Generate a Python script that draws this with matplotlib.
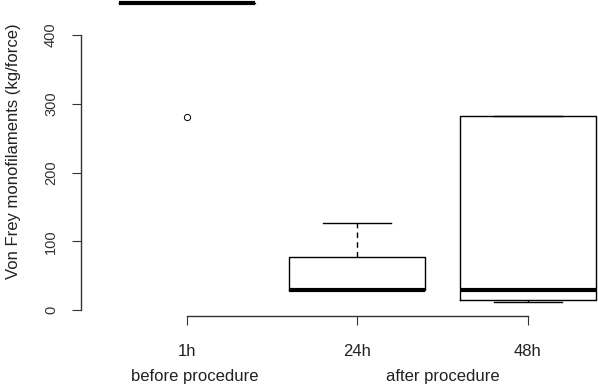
import matplotlib
matplotlib.use("Agg")
import matplotlib.pyplot as plt

# box statistics (kg/force)
groups = ['1h', '24h', '48h']
q1 = [446, 29, 15]
med = [446, 29, 29]
q3 = [446, 77, 282]
whislo = [446, 29, 12]
whishi = [446, 126, 282]
fliers = [[281], [], []]
y_ticks = [0, 100, 200, 300, 400]
phase_labels = ['before procedure', 'after procedure']
phase_pos = [1.05, 2.5]

plt.rcParams['font.family'] = ['Liberation Sans', 'DejaVu Sans']

stats = []
for i in range(len(groups)):
    stats.append({'label': groups[i], 'q1': q1[i], 'med': med[i], 'q3': q3[i],
                  'whislo': whislo[i], 'whishi': whishi[i], 'fliers': fliers[i]})

W, H = 598, 386
fig = plt.figure(figsize=(W / 100, H / 100), dpi=100)
# axes: left edge at the y-axis line, bottom at the x-axis line, running off top/right like the crop
ax = fig.add_axes([81 / W, 70 / H, (W - 81) / W, 316 / H])

ax.bxp(stats, positions=[1, 2, 3], widths=0.8, capwidths=0.4,
       boxprops=dict(color='black', linewidth=1),
       medianprops=dict(color='black', linewidth=3, solid_capstyle='butt'),
       whiskerprops=dict(color='black', linewidth=1, linestyle=(0, (4, 3))),
       capprops=dict(color='black', linewidth=1),
       flierprops=dict(marker='o', markerfacecolor='none', markeredgecolor='black',
                       markersize=4.5, markeredgewidth=0.7))
for art in ax.get_children():
    try:
        art.set_clip_on(False)
    except Exception:
        pass

ax.set_xlim(0.38, 0.38 + (W - 81) / 170.5)
ax.set_ylim(-6 / 0.6875, 310 / 0.6875)

ax.spines['top'].set_visible(False)
ax.spines['right'].set_visible(False)
ax.spines['left'].set_bounds(0, 400)
ax.spines['bottom'].set_bounds(1, 3)
for s in ['left', 'bottom']:
    ax.spines[s].set_color('#333333')
    ax.spines[s].set_linewidth(1)

ax.set_yticks(y_ticks)
ax.set_yticklabels([str(v) for v in y_ticks], rotation=90, va='center', fontsize=10.5, color='#333333')
ax.tick_params(axis='y', length=6.5, pad=10, color='#333333')
ax.set_xticks([1, 2, 3])
ax.set_xticklabels(groups, fontsize=12, color='#222222')
ax.tick_params(axis='x', length=6.5, pad=14, color='#333333')

ax.set_ylabel('Von Frey monofilaments (kg/force)', fontsize=12, color='#222222')
ax.yaxis.set_label_coords(-(81 - 21) / (W - 81), (316 - 151) / 316)

for lab, xp in zip(phase_labels, phase_pos):
    ax.annotate(lab, xy=(xp, 0), xycoords=('data', 'axes fraction'),
                xytext=(0, -60), textcoords='offset pixels',
                ha='center', va='center', fontsize=12, color='#222222')

fig.savefig('out.png', dpi=100)
